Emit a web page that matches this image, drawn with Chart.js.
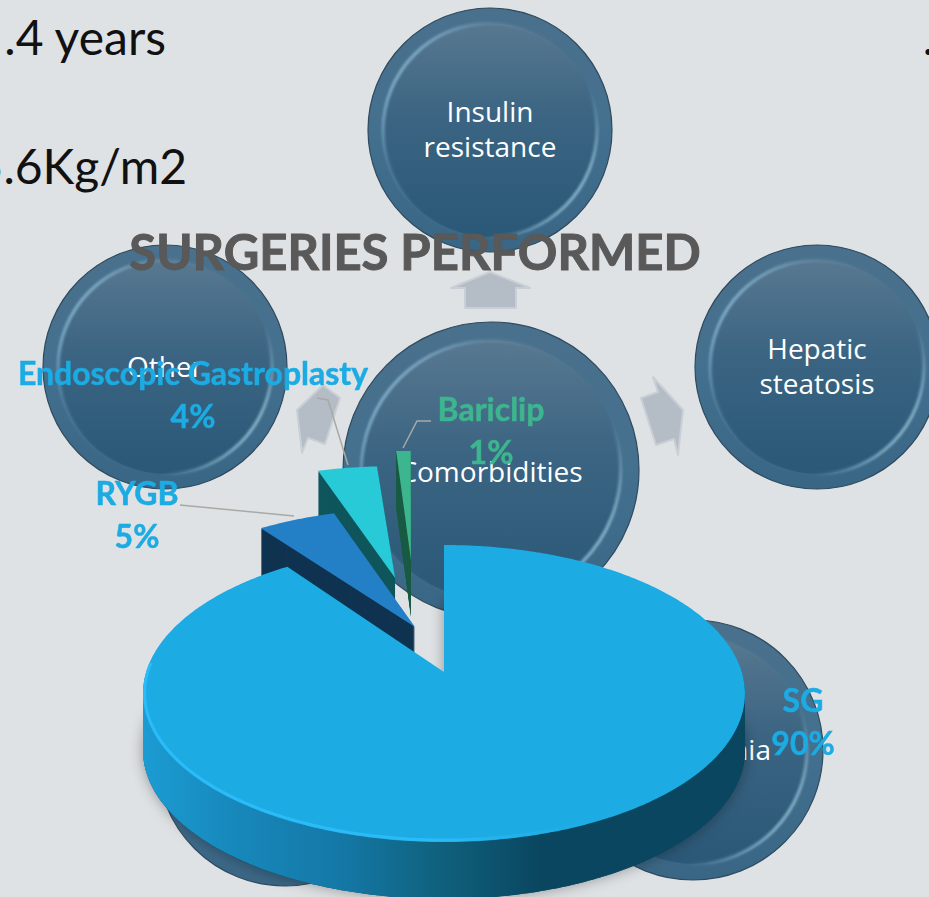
<!DOCTYPE html>
<html>
<head>
<meta charset="utf-8">
<title>Surgeries performed</title>
<script src="https://cdn.jsdelivr.net/npm/chart.js@4/dist/chart.umd.min.js"></script>
<style>
  html, body { margin: 0; padding: 0; background: #DFE2E5; overflow: hidden; }
  #stage { position: relative; width: 929px; height: 897px; overflow: hidden; }
  #backdrop, #chart { position: absolute; left: 0; top: 0; }
  .node { fill: #fff; font: 28px "Open Sans", sans-serif; text-anchor: middle; }
  .slide { fill: #111; font: 48px Lato, sans-serif; text-anchor: end; }
</style>
</head>
<body>
<div id="stage">
  <svg id="backdrop" width="929" height="897" xmlns="http://www.w3.org/2000/svg">
    <defs>
      <linearGradient id="ball" x1="0" y1="0" x2="0" y2="1">
        <stop offset="0" stop-color="#587890"/>
        <stop offset="0.45" stop-color="#3A6482"/>
        <stop offset="1" stop-color="#2B5877"/>
      </linearGradient>
      <linearGradient id="band" x1="0" y1="0" x2="0" y2="1">
        <stop offset="0" stop-color="#4A708C"/>
        <stop offset="0.5" stop-color="#44708F"/>
        <stop offset="1" stop-color="#3A6685"/>
      </linearGradient>
      <linearGradient id="rim" x1="0" y1="0.15" x2="1" y2="0.85">
        <stop offset="0" stop-color="#9ACBE8" stop-opacity="0.95"/>
        <stop offset="0.25" stop-color="#7FA8C4" stop-opacity="0.25"/>
        <stop offset="0.42" stop-color="#7FA8C4" stop-opacity="0.05"/>
        <stop offset="0.72" stop-color="#7FA8C4" stop-opacity="0"/>
        <stop offset="1" stop-color="#B4E2F4" stop-opacity="0.95"/>
      </linearGradient>
      <filter id="soft" x="-10%" y="-10%" width="120%" height="120%">
        <feGaussianBlur stdDeviation="1.1"/>
      </filter>
    </defs>
    <g id="nodes"></g>
    <g fill="#B4BCC6" stroke="#C9CFD6" stroke-width="2" stroke-linejoin="round">
      <polygon points="490,272 530,288 516,288 516,308 465,308 465,288 451,288"/>
      <polygon points="323,385 340,398 325,444 308,438 302,453 297,410"/>
      <polygon points="653,377 683,410 678,455 674,439 656,445 641,398 658,392"/>
    </g>
    <text class="slide" x="166" y="55">.4 years</text>
    <text class="slide" x="187" y="184">5.6Kg/m2</text>
    <text class="slide" x="934" y="55">.</text>
    <text class="node" x="490" y="122">Insulin</text>
    <text class="node" x="490" y="157">resistance</text>
    <text class="node" x="817" y="359">Hepatic</text>
    <text class="node" x="817" y="394">steatosis</text>
    <text class="node" x="165" y="377">Other</text>
    <text class="node" x="491" y="482">Comorbidities</text>
    <text class="node" x="771" y="760" style="text-anchor:end">nia</text>
  </svg>
  <canvas id="chart" width="929" height="897"></canvas>
</div>
<script>
// values
const surgeries = ['SG', 'RYGB', 'Endoscopic Gastroplasty', 'Bariclip'];
const shares = [90, 5, 4, 1];
const chartTitle = 'SURGERIES PERFORMED';

// slice styling, same order as surgeries
const topColors = ['#1CABE2', '#2480C6', '#27CAD6', '#3DB58E'];
const sideColors = ['#0A4660', '#0F3350', '#0F565C', '#1B5C45'];
const labelColors = ['#1CABE2', '#1CABE2', '#1CABE2', '#3DB58E'];
const sliceDepth = [57, 57, 57, 57];
// how far each slice is pulled out of the pie, in disc radii
const sliceShift = [[0, 0], [-0.13, -0.345], [-0.22, -0.78], [-0.143, -0.95]];
// extra pull on the tip of each slice
const tipNudge = [[0, 0], [0.028, 0.021], [0.039, 0.067], [0.018, 0.083]];
// label centres and leader lines
const labelAnchors = [[803, 702], [137, 495], [193, 375], [491, 411]];
const leaders = [
  null,
  [[180, 505], [294, 516]],
  [[317, 398], [328, 400], [348, 465]],
  [[431, 421], [417, 421], [403, 448]]
];

// circles sitting behind the pie: cx, cy, r
const nodeCircles = [
  [490, 130, 122], [165, 367, 122], [817, 367, 122],
  [285, 758, 128], [693, 750, 130], [491, 470, 148]
];

// build the backdrop circles
const nodesGroup = document.getElementById('nodes');
nodeCircles.forEach(([cx, cy, r]) => {
  const inner = r * 0.875;
  nodesGroup.innerHTML +=
    `<circle cx="${cx}" cy="${cy}" r="${r}" fill="url(#band)" stroke="#2F4A5E" stroke-width="1.2"/>` +
    `<circle cx="${cx}" cy="${cy}" r="${inner}" fill="url(#ball)"/>` +
    `<circle cx="${cx}" cy="${cy}" r="${inner}" fill="none" stroke="url(#rim)" stroke-width="3.5" filter="url(#soft)"/>`;
});

// perspective of the tilted disc
const pieX = 444, pieY = 672, spreadX = 297.8, spreadY = 145.4, tilt = 0.1448;

function project(u, v) {
  const w = 1 - tilt * v;
  return [pieX + spreadX * u / w, pieY + spreadY * v / w];
}

function slicePath(el, shift, nudge) {
  const points = [project(shift[0] + nudge[0], shift[1] + nudge[1])];
  const count = Math.max(8, Math.ceil((el.endAngle - el.startAngle) / 0.01));
  for (let i = 0; i <= count; i++) {
    const a = el.startAngle + (el.endAngle - el.startAngle) * i / count;
    points.push(project(shift[0] + Math.cos(a), shift[1] + Math.sin(a)));
  }
  return points;
}

function fillPoints(ctx, points, dy) {
  ctx.beginPath();
  points.forEach(([x, y], i) => {
    if (i === 0) ctx.moveTo(x, y + dy);
    else ctx.lineTo(x, y + dy);
  });
  ctx.closePath();
  ctx.fill();
}

const pie3d = {
  id: 'pie3d',
  // the arcs are laid out by the pie controller, this only paints them tilted
  beforeDatasetsDraw(chart) {
    const ctx = chart.ctx;
    const arcs = chart.getDatasetMeta(0).data;

    // back to front
    for (let i = arcs.length - 1; i >= 0; i--) {
      const points = slicePath(arcs[i], sliceShift[i], tipNudge[i]);
      ctx.save();

      if (i === 0) {
        const side = ctx.createLinearGradient(143, 0, 745, 0);
        side.addColorStop(0, '#1B9CD3');
        side.addColorStop(0.15, '#1788BB');
        side.addColorStop(0.33, '#1478A6');
        side.addColorStop(0.48, '#106380');
        side.addColorStop(0.66, '#0A4660');
        side.addColorStop(1, '#0A4660');
        ctx.save();
        ctx.shadowColor = 'rgba(0,0,0,0.35)';
        ctx.shadowBlur = 14;
        ctx.fillStyle = '#0A4660';
        fillPoints(ctx, points, sliceDepth[i]);
        ctx.restore();
        ctx.fillStyle = side;
      } else {
        ctx.fillStyle = sideColors[i];
      }
      for (let d = sliceDepth[i]; d > 0; d--) fillPoints(ctx, points, d);

      ctx.fillStyle = topColors[i];
      fillPoints(ctx, points, 0);

      // light rim along the front left edge of the big slice
      if (i === 0) {
        const glow = ctx.createLinearGradient(143, 0, 640, 0);
        glow.addColorStop(0, '#2BBBF8');
        glow.addColorStop(0.6, '#2BBBF8');
        glow.addColorStop(1, 'rgba(28,171,226,0)');
        ctx.strokeStyle = glow;
        ctx.lineWidth = 3;
        ctx.beginPath();
        for (let k = 0; k <= 140; k++) {
          const a = Math.PI * (0.36 + 0.66 * k / 140);
          const [x, y] = project(0.995 * Math.cos(a), 0.99 * Math.sin(a));
          if (k === 0) ctx.moveTo(x, y);
          else ctx.lineTo(x, y);
        }
        ctx.stroke();
      }
      ctx.restore();
    }
    return false;
  },
  afterDraw(chart) {
    const ctx = chart.ctx;
    ctx.save();

    ctx.strokeStyle = '#A9A9A6';
    ctx.lineWidth = 1.5;
    leaders.forEach(line => {
      if (!line) return;
      ctx.beginPath();
      line.forEach(([x, y], i) => (i === 0 ? ctx.moveTo(x, y) : ctx.lineTo(x, y)));
      ctx.stroke();
    });

    ctx.textAlign = 'center';
    ctx.textBaseline = 'middle';
    ctx.font = 'bold 32px Lato, sans-serif';
    ctx.lineWidth = 0.5;
    surgeries.forEach((name, i) => {
      const [x, y] = labelAnchors[i];
      ctx.fillStyle = ctx.strokeStyle = labelColors[i];
      ctx.fillText(name, x, y);
      ctx.strokeText(name, x, y);
      ctx.fillText(shares[i] + '%', x, y + 43);
      ctx.strokeText(shares[i] + '%', x, y + 43);
    });

    // title is heavier in the slide than Lato bold
    ctx.fillStyle = ctx.strokeStyle = '#595959';
    ctx.font = 'bold 49px Lato, sans-serif';
    ctx.lineWidth = 1;
    ctx.fillText(chartTitle, 415, 254);
    ctx.strokeText(chartTitle, 415, 254);
    ctx.restore();
  }
};

new Chart(document.getElementById('chart'), {
  type: 'pie',
  data: {
    labels: surgeries,
    datasets: [{ data: shares, backgroundColor: topColors, borderWidth: 0 }]
  },
  options: {
    responsive: false,
    animation: false,
    plugins: { legend: { display: false }, tooltip: { enabled: false } }
  },
  plugins: [pie3d]
});
</script>
</body>
</html>
